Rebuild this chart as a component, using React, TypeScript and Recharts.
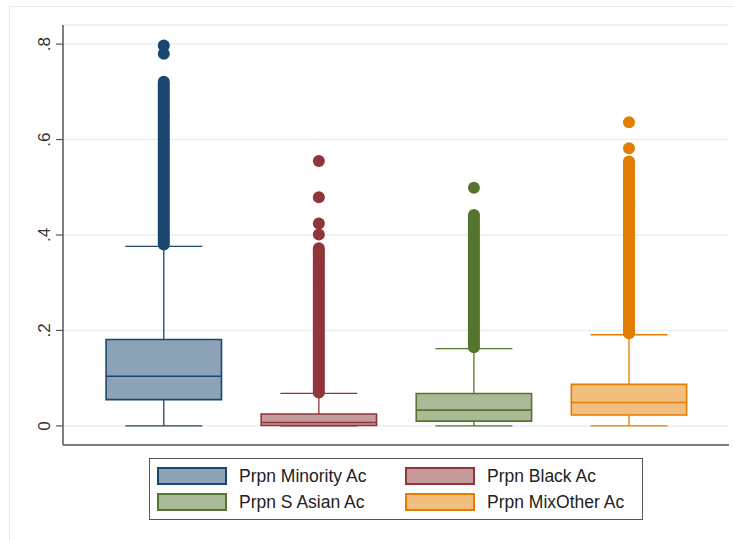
import React from "react";
import {
  ComposedChart,
  XAxis,
  YAxis,
  CartesianGrid,
  ReferenceArea,
  ReferenceLine,
  Scatter,
  Legend,
} from "recharts";

const categories = [
  "Prpn Minority Ac",
  "Prpn Black Ac",
  "Prpn S Asian Ac",
  "Prpn MixOther Ac",
];
const colors = ["#1A476F", "#90353B", "#55752F", "#E37E00"];

// box plot summaries
const lowerWhisker = [0, 0, 0, 0];
const q1 = [0.055, 0.001, 0.01, 0.023];
const median = [0.104, 0.007, 0.033, 0.049];
const q3 = [0.181, 0.025, 0.068, 0.087];
const upperWhisker = [0.376, 0.068, 0.162, 0.191];

// outliers: dense runs (drawn as solid columns) and single dots
const outlierRuns = [
  [[0.38, 0.648], [0.652, 0.721]],
  [[0.07, 0.298], [0.302, 0.352], [0.356, 0.372]],
  [[0.165, 0.442]],
  [[0.194, 0.47], [0.474, 0.53], [0.534, 0.554]],
];
const outlierDots = [
  [0.78, 0.797],
  [0.401, 0.424, 0.479, 0.555],
  [0.499],
  [0.582, 0.636],
];

const yTicks = [0, 0.2, 0.4, 0.6, 0.8];
const yTickLabels = ["0", ".2", ".4", ".6", ".8"];

const BOX_HALF = 0.372;
const CAP_HALF = 0.248;
const DOT_R = 6;

const YTick = (props: any) => {
  const { x, y, payload } = props;
  const i = yTicks.indexOf(payload.value);
  return (
    <text
      transform={`translate(${x - 4},${y}) rotate(-90)`}
      textAnchor="middle"
      fontSize={17}
      fill="#333"
      fontFamily="'Liberation Sans', Arial, sans-serif"
    >
      {i >= 0 ? yTickLabels[i] : payload.value}
    </text>
  );
};

const LegendBox = () => (
  <div
    style={{
      width: 494,
      height: 62,
      boxSizing: "border-box",
      border: "1px solid #555",
      background: "#fff",
      position: "relative",
      fontFamily: "'Liberation Sans', Arial, sans-serif",
      fontSize: 17.5,
      color: "#222",
    }}
  >
    {categories.map((name, i) => {
      const col = i % 2;
      const row = Math.floor(i / 2);
      return (
        <div
          key={name}
          style={{
            position: "absolute",
            left: 7 + col * 248,
            top: 8 + row * 26,
            display: "flex",
            alignItems: "center",
          }}
        >
          <div
            style={{
              width: 70,
              height: 18,
              boxSizing: "border-box",
              border: `2px solid ${colors[i]}`,
              background: colors[i] + "80",
            }}
          />
          <span style={{ marginLeft: 12, lineHeight: "18px" }}>{name}</span>
        </div>
      );
    })}
  </div>
);

export default function App() {
  return (
    <div
      style={{
        position: "absolute",
        left: 0,
        top: 0,
        width: 734,
        height: 540,
        overflow: "hidden",
        background: "#fff",
      }}
    >
      <div
        style={{
          position: "absolute",
          left: 9,
          top: 6,
          width: 760,
          height: 560,
          border: "1px solid #E6EDF0",
        }}
      />
      <ComposedChart
        width={734}
        height={540}
        margin={{ top: 25, right: 5, bottom: 65, left: 0 }}
      >
        <CartesianGrid
          vertical={false}
          stroke="#E8EFF2"
          strokeWidth={1.5}
        />
        <XAxis
          type="number"
          dataKey="x"
          domain={[0.35, 4.645]}
          allowDataOverflow
          tick={false}
          tickLine={false}
          height={30}
          axisLine={{ stroke: "#555", strokeWidth: 1.5 }}
        />
        <YAxis
          type="number"
          dataKey="y"
          domain={[-0.04, 0.84]}
          allowDataOverflow
          ticks={yTicks}
          interval={0}
          width={63}
          tickSize={7}
          tickMargin={2}
          tick={YTick}
          tickLine={{ stroke: "#555", strokeWidth: 1.2 }}
          axisLine={{ stroke: "#555", strokeWidth: 1.5 }}
        />

        {categories.map((name, i) => {
          const x = i + 1;
          const c = colors[i];
          return (
            <React.Fragment key={name}>
              <ReferenceLine
                segment={[{ x, y: q3[i] }, { x, y: upperWhisker[i] }]}
                stroke={c}
                strokeWidth={1.3}
              />
              <ReferenceLine
                segment={[{ x, y: lowerWhisker[i] }, { x, y: q1[i] }]}
                stroke={c}
                strokeWidth={1.3}
              />
              <ReferenceLine
                segment={[
                  { x: x - CAP_HALF, y: upperWhisker[i] },
                  { x: x + CAP_HALF, y: upperWhisker[i] },
                ]}
                stroke={c}
                strokeWidth={1.3}
              />
              <ReferenceLine
                segment={[
                  { x: x - CAP_HALF, y: lowerWhisker[i] },
                  { x: x + CAP_HALF, y: lowerWhisker[i] },
                ]}
                stroke={c}
                strokeWidth={1.3}
              />
              <ReferenceArea
                x1={x - BOX_HALF}
                x2={x + BOX_HALF}
                y1={q1[i]}
                y2={q3[i]}
                fill={c}
                fillOpacity={0.5}
                stroke={c}
                strokeWidth={1.6}
                strokeOpacity={1}
              />
              <ReferenceLine
                segment={[
                  { x: x - BOX_HALF, y: median[i] },
                  { x: x + BOX_HALF, y: median[i] },
                ]}
                stroke={c}
                strokeWidth={1.6}
              />
              {outlierRuns[i].map((run, k) => (
                <ReferenceLine
                  key={k}
                  segment={[{ x, y: run[0] }, { x, y: run[1] }]}
                  stroke={c}
                  strokeWidth={DOT_R * 2}
                  strokeLinecap="round"
                />
              ))}
            </React.Fragment>
          );
        })}

        {categories.map((name, i) => (
          <Scatter
            key={name}
            name={name}
            data={outlierDots[i].map((v) => ({ x: i + 1, y: v }))}
            fill={colors[i]}
            isAnimationActive={false}
            shape={(p: any) => (
              <circle cx={p.cx} cy={p.cy} r={DOT_R} fill={colors[i]} />
            )}
          />
        ))}

        <Legend
          layout="horizontal"
          verticalAlign="middle"
          align="center"
          content={LegendBox}
          wrapperStyle={{ left: 149, top: 458, width: 494, height: 62 }}
        />
      </ComposedChart>
    </div>
  );
}
